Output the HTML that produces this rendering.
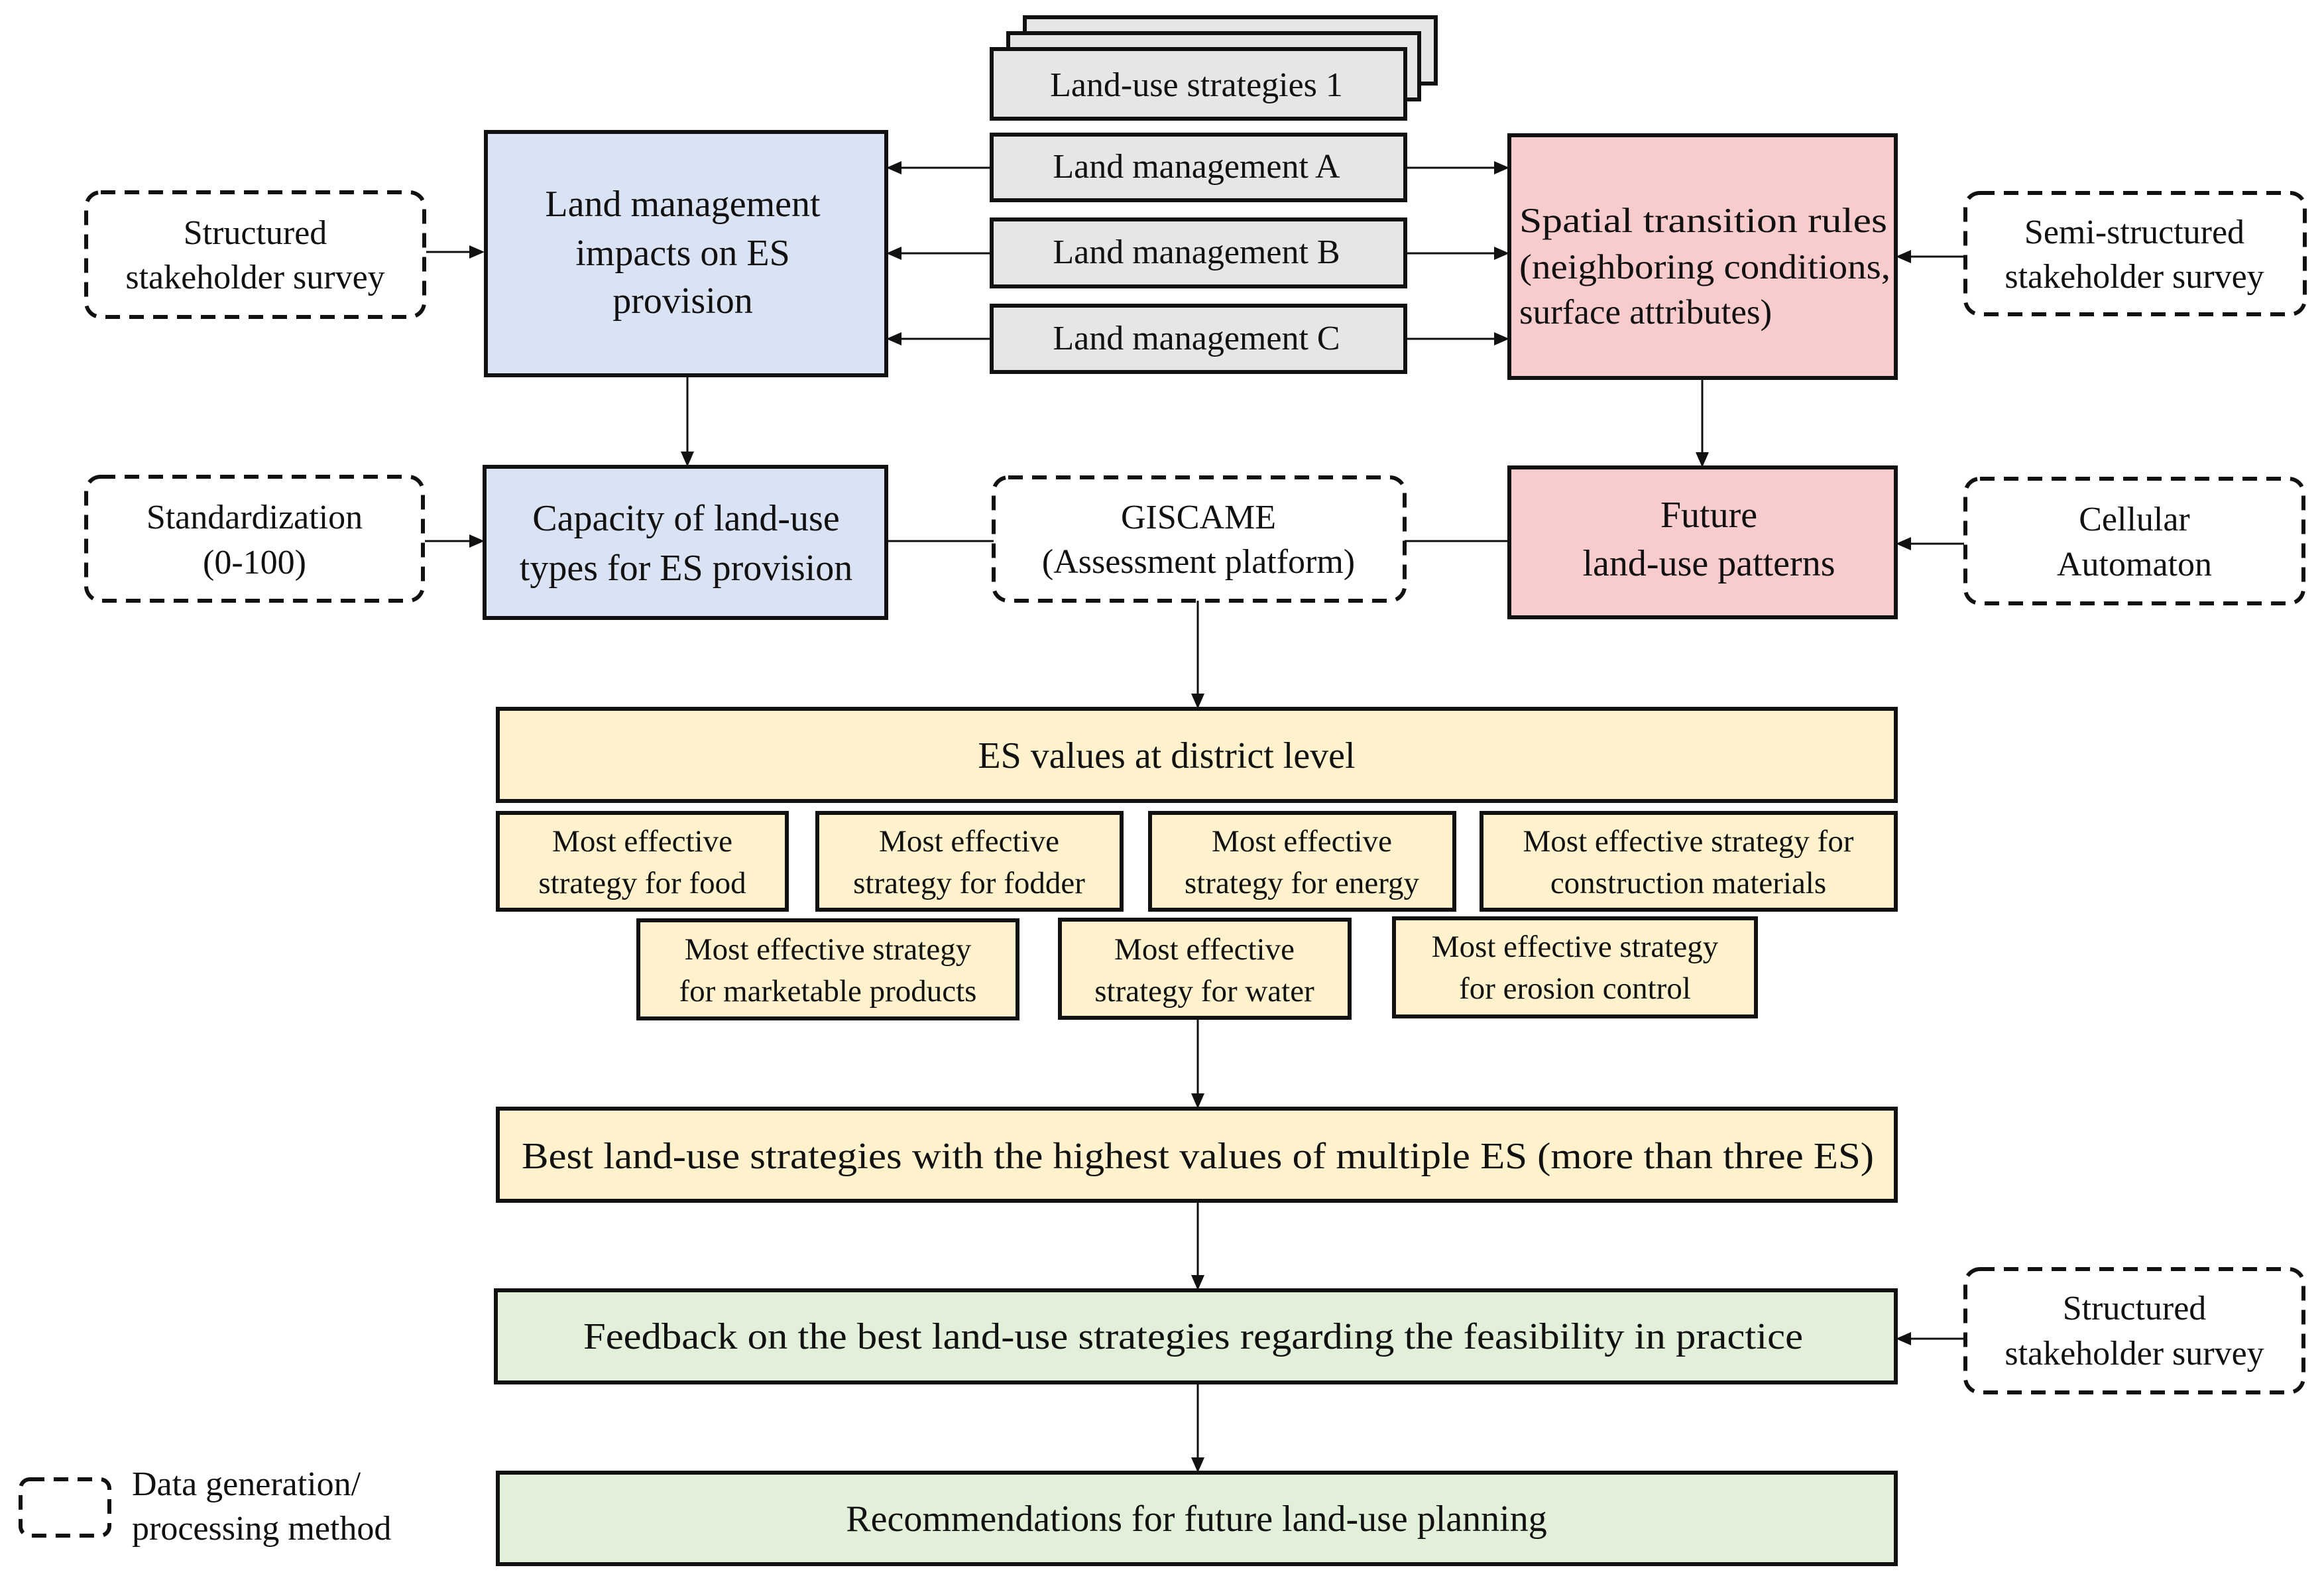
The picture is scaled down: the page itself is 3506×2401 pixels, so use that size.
<!DOCTYPE html>
<html><head><meta charset="utf-8"><style>html,body{margin:0;padding:0;background:#fff}svg{display:block}</style></head><body>
<svg width="3506" height="2401" viewBox="0 0 3506 2401" xmlns="http://www.w3.org/2000/svg">
<style>
text{font-family:"Liberation Serif",serif;fill:#111;font-size:52px;text-anchor:middle}
.st{text-anchor:start}
.b{stroke:#111;stroke-width:6}
.d{fill:#fff;stroke:#111;stroke-width:6;stroke-dasharray:22 14}
.l{stroke:#111;stroke-width:3;fill:none}
.s{font-size:47px}
.L{font-size:56px}
</style>
<!-- stacked land-use strategies -->
<rect x="1546" y="26" width="620" height="100" fill="#e7e6e6" class="b"/>
<rect x="1521" y="50" width="620" height="100" fill="#e7e6e6" class="b"/>
<rect x="1496" y="74" width="624" height="105" fill="#e7e6e6" class="b"/>
<text x="1805" y="145">Land-use strategies 1</text>
<rect x="1496" y="203" width="624" height="99" fill="#e7e6e6" class="b"/>
<text x="1805" y="268">Land management A</text>
<rect x="1496" y="331" width="624" height="101" fill="#e7e6e6" class="b"/>
<text x="1805" y="397">Land management B</text>
<rect x="1496" y="461" width="624" height="100" fill="#e7e6e6" class="b"/>
<text x="1805" y="527">Land management C</text>
<!-- blue -->
<rect x="733" y="199" width="604" height="367" fill="#dae3f3" class="b"/>
<text x="1030" y="326" class="L">Land management</text>
<text x="1030" y="400" class="L">impacts on ES</text>
<text x="1030" y="472" class="L">provision</text>
<rect x="731" y="704" width="606" height="228" fill="#dae3f3" class="b"/>
<text x="1035" y="800" class="L">Capacity of land-use</text>
<text x="1035" y="875" class="L">types for ES provision</text>
<!-- pink -->
<rect x="2277" y="204" width="583" height="366" fill="#f8cbcc" class="b"/>
<text x="2292" y="350" class="st" style="font-size:53px" textLength="555" lengthAdjust="spacingAndGlyphs">Spatial transition rules</text>
<text x="2292" y="420" class="st" style="font-size:53px" textLength="560" lengthAdjust="spacingAndGlyphs">(neighboring conditions,</text>
<text x="2292" y="488" class="st" style="font-size:53px">surface attributes)</text>
<rect x="2277" y="705" width="583" height="226" fill="#f8cbcc" class="b"/>
<text x="2578" y="795" class="L">Future</text>
<text x="2578" y="868" class="L">land-use patterns</text>
<!-- dashed -->
<rect x="130" y="290" width="510" height="188" rx="22" class="d"/>
<text x="385" y="368">Structured</text>
<text x="385" y="435">stakeholder survey</text>
<rect x="130" y="719" width="508" height="187" rx="22" class="d"/>
<text x="384" y="797">Standardization</text>
<text x="384" y="865">(0-100)</text>
<rect x="1499" y="720" width="620" height="186" rx="22" class="d"/>
<text x="1808" y="797">GISCAME</text>
<text x="1808" y="864">(Assessment platform)</text>
<rect x="2965" y="291" width="512" height="183" rx="22" class="d"/>
<text x="3220" y="367">Semi-structured</text>
<text x="3220" y="434">stakeholder survey</text>
<rect x="2965" y="722" width="510" height="188" rx="22" class="d"/>
<text x="3220" y="800">Cellular</text>
<text x="3220" y="868">Automaton</text>
<rect x="2965" y="1914" width="510" height="186" rx="22" class="d"/>
<text x="3220" y="1990">Structured</text>
<text x="3220" y="2058">stakeholder survey</text>
<rect x="31" y="2231" width="134" height="85" rx="14" class="d"/>
<text x="199" y="2255" class="st">Data generation/</text>
<text x="199" y="2322" class="st">processing method</text>
<!-- yellow -->
<rect x="751" y="1069" width="2109" height="139" fill="#fff2cc" class="b"/>
<text x="1760" y="1158" class="L">ES values at district level</text>
<g fill="#fff2cc" class="b">
<rect x="751" y="1226" width="436" height="146"/>
<rect x="1233" y="1226" width="459" height="146"/>
<rect x="1735" y="1226" width="459" height="146"/>
<rect x="2235" y="1226" width="625" height="146"/>
<rect x="963" y="1388" width="572" height="148"/>
<rect x="1599" y="1387" width="437" height="148"/>
<rect x="2103" y="1385" width="546" height="148"/>
</g>
<text x="969" y="1284" class="s">Most effective</text><text x="969" y="1347" class="s">strategy for food</text>
<text x="1462" y="1284" class="s">Most effective</text><text x="1462" y="1347" class="s">strategy for fodder</text>
<text x="1964" y="1284" class="s">Most effective</text><text x="1964" y="1347" class="s">strategy for energy</text>
<text x="2547" y="1284" class="s">Most effective strategy for</text><text x="2547" y="1347" class="s">construction materials</text>
<text x="1249" y="1447" class="s">Most effective strategy</text><text x="1249" y="1510" class="s">for marketable products</text>
<text x="1817" y="1447" class="s">Most effective</text><text x="1817" y="1510" class="s">strategy for water</text>
<text x="2376" y="1443" class="s">Most effective strategy</text><text x="2376" y="1506" class="s">for erosion control</text>
<rect x="751" y="1672" width="2109" height="139" fill="#fff2cc" class="b"/>
<text x="1807" y="1762" class="L" textLength="2040" lengthAdjust="spacingAndGlyphs">Best land-use strategies with the highest values of multiple ES (more than three ES)</text>
<rect x="748" y="1946" width="2112" height="139" fill="#e2f0d9" class="b"/>
<text x="1800" y="2034" class="L" textLength="1840" lengthAdjust="spacingAndGlyphs">Feedback on the best land-use strategies regarding the feasibility in practice</text>
<rect x="751" y="2221" width="2109" height="138" fill="#e2f0d9" class="b"/>
<text x="1805" y="2309" class="L">Recommendations for future land-use planning</text>
<!-- connectors -->
<g class="l">
<line x1="1496" y1="253" x2="1355" y2="253"/><line x1="1496" y1="382" x2="1355" y2="382"/><line x1="1496" y1="511" x2="1355" y2="511"/>
<line x1="2120" y1="253" x2="2258" y2="253"/><line x1="2120" y1="382" x2="2258" y2="382"/><line x1="2120" y1="511" x2="2258" y2="511"/>
<line x1="643" y1="380" x2="710" y2="380"/><line x1="641" y1="816" x2="710" y2="816"/>
<line x1="2963" y1="387" x2="2880" y2="387"/><line x1="2963" y1="820" x2="2880" y2="820"/><line x1="2963" y1="2019" x2="2880" y2="2019"/>
<line x1="1037" y1="569" x2="1037" y2="685"/><line x1="2568" y1="573" x2="2568" y2="686"/>
<line x1="1337" y1="816" x2="1499" y2="816"/><line x1="2119" y1="816" x2="2277" y2="816"/>
<line x1="1807" y1="906" x2="1807" y2="1050"/><line x1="1807" y1="1536" x2="1807" y2="1653"/>
<line x1="1807" y1="1811" x2="1807" y2="1927"/><line x1="1807" y1="2085" x2="1807" y2="2202"/>
</g>
<g fill="#111">
<polygon points="1337,253 1360,243 1360,263"/><polygon points="1337,382 1360,372 1360,392"/><polygon points="1337,511 1360,501 1360,521"/>
<polygon points="2277,253 2254,243 2254,263"/><polygon points="2277,382 2254,372 2254,392"/><polygon points="2277,511 2254,501 2254,521"/>
<polygon points="731,380 708,370 708,390"/><polygon points="731,816 708,806 708,826"/>
<polygon points="2860,387 2883,377 2883,397"/><polygon points="2860,820 2883,810 2883,830"/><polygon points="2860,2019 2883,2009 2883,2029"/>
<polygon points="1037,704 1027,681 1047,681"/><polygon points="2568,705 2558,682 2578,682"/>
<polygon points="1807,1069 1797,1046 1817,1046"/><polygon points="1807,1672 1797,1649 1817,1649"/>
<polygon points="1807,1946 1797,1923 1817,1923"/><polygon points="1807,2221 1797,2198 1817,2198"/>
</g>
</svg>
</body></html>
